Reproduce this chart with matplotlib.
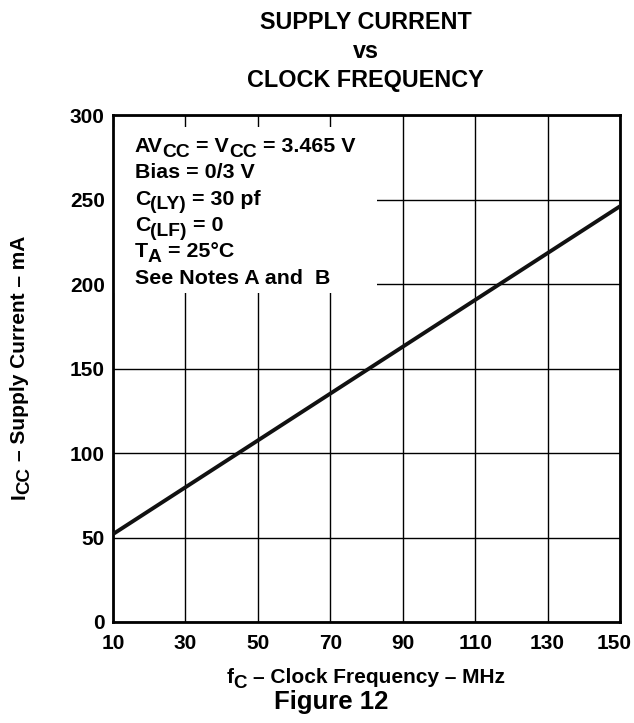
import numpy as np
import matplotlib.pyplot as plt
from matplotlib.patches import Rectangle
from matplotlib.transforms import ScaledTranslation

plt.rcParams['font.family'] = ['Liberation Sans', 'DejaVu Sans']
plt.rcParams['font.weight'] = 'bold'

# supply current vs clock frequency (straight line, read at both ends)
freq_mhz = [10, 150]
icc_ma = [52, 246]

x_ticks = [10, 30, 50, 70, 90, 110, 130, 150]
y_ticks = [0, 50, 100, 150, 200, 250, 300]

# test conditions, (text, is_subscript) pieces per line
notes = [
    [('AV', 0), ('CC', 1), (' = V', 0), ('CC', 1), (' = 3.465 V', 0)],
    [('Bias = 0/3 V', 0)],
    [('C', 0), ('(LY)', 1), (' = 30 pf', 0)],
    [('C', 0), ('(LF)', 1), (' = 0', 0)],
    [('T', 0), ('A', 1), (' = 25°C', 0)],
    [('See Notes A and  B', 0)],
]
xlabel_parts = [('f', 0), ('C', 1), (' – Clock Frequency – MHz', 0)]
ylabel_parts = [('I', 0), ('CC', 1), (' – Supply Current – mA', 0)]

DPI = 100
fig = plt.figure(figsize=(6.34, 7.23), dpi=DPI)
ax = fig.add_axes([0.1782, 0.1397, 0.7997, 0.7012])
rend = fig.canvas.get_renderer()


def text_width(s, size):
    # width incl. leading/trailing blanks: pad with x on both sides
    t = fig.text(0, 0, 'x' + s + 'x', fontsize=size, fontweight='bold')
    t2 = fig.text(0, 0, 'xx', fontsize=size, fontweight='bold')
    w = t.get_window_extent(rend).width - t2.get_window_extent(rend).width
    t.remove()
    t2.remove()
    return w


def rich_text(x, y, parts, size, transform, rot=0, center=False, parent=fig):
    sub_size = size * 0.9
    drop = size * 0.22 * DPI / 72.0
    widths = [text_width(s, sub_size if sub else size) for s, sub in parts]
    pos = -sum(widths) / 2.0 if center else 0.0
    for (s, sub), w in zip(parts, widths):
        fs = sub_size if sub else size
        lead = text_width(s[:len(s) - len(s.lstrip())], fs) if s.startswith(' ') else 0
        d = drop if sub else 0
        if rot:
            off = ScaledTranslation(d / DPI, (pos + lead) / DPI, fig.dpi_scale_trans)
        else:
            off = ScaledTranslation((pos + lead) / DPI, -d / DPI, fig.dpi_scale_trans)
        parent.text(x, y, s.strip(), transform=transform + off,
                    fontsize=fs, fontweight='bold',
                    rotation=rot, rotation_mode='anchor',
                    ha='left', va='baseline', zorder=4, clip_on=False)
        pos += w


ax.set_xlim(10, 150)
ax.set_ylim(0, 300)
ax.set_xticks(x_ticks)
ax.set_yticks(y_ticks)
ax.tick_params(axis='x', length=0, labelsize=15, pad=9)
ax.tick_params(axis='y', length=0, labelsize=15, pad=6)
for lab in ax.get_xticklabels() + ax.get_yticklabels():
    lab.set_fontweight('bold')
last = ax.get_xticklabels()[-1]
last.set_transform(last.get_transform() +
                   ScaledTranslation(-6 / DPI, 0, fig.dpi_scale_trans))

ax.grid(True, color='black', linewidth=1.0)
ax.set_axisbelow(True)
for s in ax.spines.values():
    s.set_linewidth(2.0)

# white box behind the test conditions, hides grid lines
ax.add_patch(Rectangle((10, 194.7), 72.8, 98.3, facecolor='white',
                       edgecolor='none', zorder=1.5))

ax.plot(freq_mhz, icc_ma, color='#111111', linewidth=2.8, zorder=3,
        solid_capstyle='butt')

# note lines, baseline spacing in data units
for i, parts in enumerate(notes):
    rich_text(16.0, 278.1 - i * 15.56, parts, 15.4, ax.transData, parent=ax)

# axis labels
rich_text(0.577, 1 - 683 / 723, xlabel_parts, 15, fig.transFigure, center=True)
rich_text(25 / 634, 1 - 367.5 / 723, ylabel_parts, 15, fig.transFigure,
          rot=90, center=True)

# title block
for txt, yb in [('SUPPLY CURRENT', 29.3), ('vs', 58.3), ('CLOCK FREQUENCY', 87.0)]:
    fig.text(365.5 / 634, 1 - yb / 723, txt, ha='center', va='baseline',
             fontsize=16.8, fontweight='bold')
fig.text(331 / 634, 1 - 709 / 723, 'Figure 12', ha='center', va='baseline',
         fontsize=18.5, fontweight='bold')

fig.savefig('out.png', dpi=DPI)
